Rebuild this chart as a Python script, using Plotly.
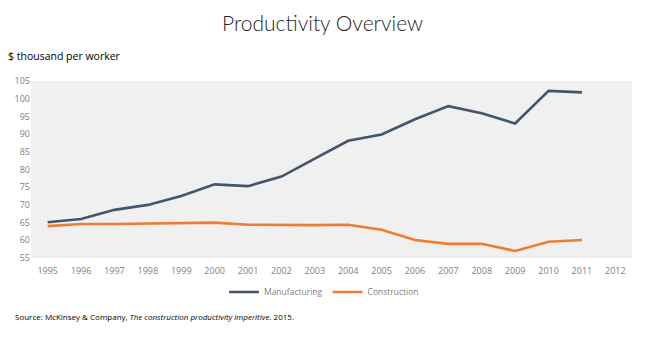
import plotly.graph_objects as go

years = [str(y) for y in range(1995, 2013)]
manufacturing = [65.1, 66.0, 68.6, 70.0, 72.5, 75.8, 75.3, 78.0, 83.1, 88.1,
                 89.9, 94.2, 97.9, 95.9, 93.0, 102.2, 101.8, None]
construction = [64.0, 64.6, 64.6, 64.8, 64.9, 65.0, 64.4, 64.3, 64.3, 64.4,
                63.0, 60.1, 59.0, 59.0, 57.0, 59.6, 60.1, None]
y_ticks = list(range(55, 106, 5))

font_family = "Open Sans, Noto Sans, sans-serif"

W, H = 645, 337
M_L, M_R, M_T, M_B = 31, 13, 81, 79
plot_w = W - M_L - M_R
plot_h = H - M_T - M_B


def px_x(px):
    return (px - M_L) / plot_w


def px_y(py):
    return (H - M_B - py) / plot_h


fig = go.Figure()
fig.add_trace(go.Scatter(x=years, y=manufacturing, name="Manufacturing",
                         mode="lines", line=dict(color="#44546A", width=2.6)))
fig.add_trace(go.Scatter(x=years, y=construction, name="Construction",
                         mode="lines", line=dict(color="#ED7D31", width=2.6)))

fig.update_layout(
    width=W, height=H,
    margin=dict(l=M_L, r=M_R, t=M_T, b=M_B),
    paper_bgcolor="white",
    plot_bgcolor="#F0F0F0",
    font=dict(family=font_family, color="#808080", size=9),
    showlegend=True,
    legend=dict(orientation="h", x=px_x(324), xanchor="center",
                y=px_y(292), yanchor="middle",
                font=dict(size=8.5, color="#7F7F7F"), itemwidth=30,
                bgcolor="rgba(0,0,0,0)"),
    xaxis=dict(type="category", range=[-0.5, 17.5], showgrid=False,
               showline=False, ticks="outside", ticklen=4,
               tickcolor="rgba(0,0,0,0)",
               tickfont=dict(size=9, color="#808080")),
    yaxis=dict(range=[55, 105], tickvals=y_ticks, showgrid=False,
               zeroline=False, ticks="", tickfont=dict(size=9, color="#808080")),
    annotations=[
        dict(text="Productivity Overview",
             x=px_x(322), y=px_y(22), xref="paper", yref="paper",
             xanchor="center", yanchor="middle", showarrow=False,
             font=dict(size=21, color="#262626",
                       family="Lato Light, Lato, " + font_family, weight=300)),
        dict(text="$ thousand per worker",
             x=px_x(6), y=px_y(56), xref="paper", yref="paper",
             xanchor="left", yanchor="middle", showarrow=False,
             font=dict(size=10.5, color="#000000", family=font_family)),
        dict(text="Source: McKinsey &amp; Company, <i>The construction productivity imperitive</i>. 2015.",
             x=px_x(13), y=px_y(316), xref="paper", yref="paper",
             xanchor="left", yanchor="middle", showarrow=False,
             font=dict(size=8, color="#000000", family=font_family)),
    ],
)

fig.write_html("out.html")
